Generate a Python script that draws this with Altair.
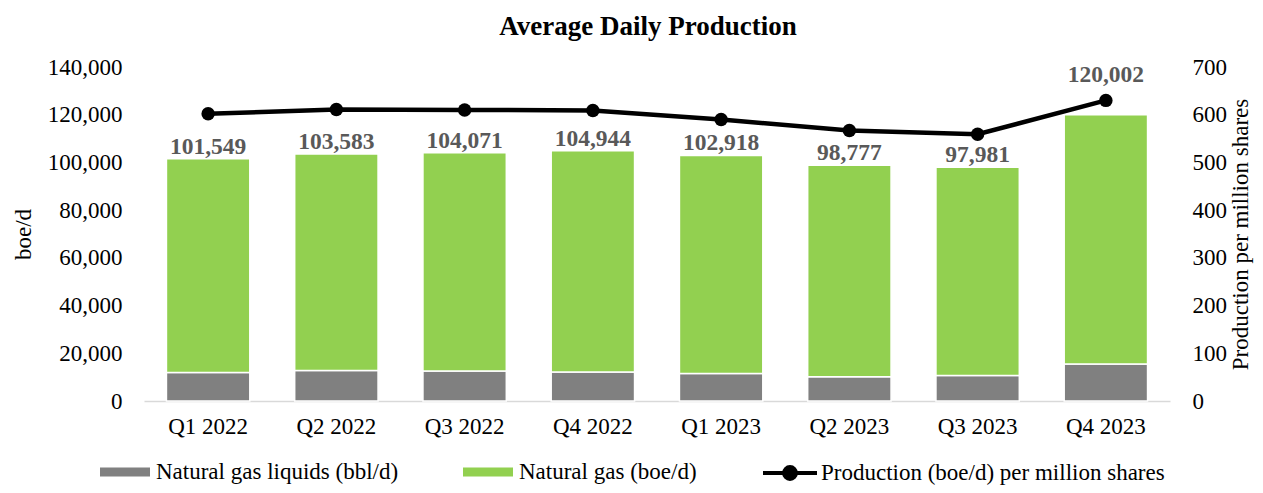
import altair as alt
import pandas as pd

quarters = ["Q1 2022", "Q2 2022", "Q3 2022", "Q4 2022", "Q1 2023", "Q2 2023", "Q3 2023", "Q4 2023"]
totals = [101549, 103583, 104071, 104944, 102918, 98777, 97981, 120002]
ngl = [11900, 12750, 12600, 12200, 11500, 10200, 10650, 15550]
per_share = [602, 611, 610, 609, 590, 567, 559, 630]

bar_series = ["Natural gas liquids (bbl/d)", "Natural gas (boe/d)"]
line_series = "Production (boe/d) per million shares"

FONT = "Liberation Serif"

rows = []
for q, t, n in zip(quarters, totals, ngl):
    rows.append({"quarter": q, "series": bar_series[0], "value": n, "ord": 0})
    rows.append({"quarter": q, "series": bar_series[1], "value": t - n, "ord": 1})
df_bars = pd.DataFrame(rows)

ratio = 140000 / 700
lab_y = []
for t, p in zip(totals, per_share):
    d = p * ratio - t
    lab_y.append(p * ratio + 5500 if 0 < d < 10000 else t)
df_tot = pd.DataFrame({"quarter": quarters, "total": totals, "per_share": per_share,
                       "label_y": lab_y, "line_series": [line_series] * len(quarters)})

xenc = alt.X("quarter:N", sort=quarters,
             scale=alt.Scale(paddingInner=0.35, paddingOuter=0.175),
             axis=alt.Axis(title=None, labelAngle=0, domainColor="#d9d9d9", domainWidth=1.5,
                           ticks=False, labelPadding=14))
yscale = alt.Scale(domain=[0, 140000], nice=False)
y2scale = alt.Scale(domain=[0, 700], nice=False)

yaxis = alt.Axis(values=list(range(0, 140001, 20000)), labelExpr="format(datum.value, ',')",
                 title="boe/d", grid=False, domain=False, ticks=False, labelPadding=22,
                 titlePadding=12)
y2axis = alt.Axis(orient="right", values=list(range(0, 701, 100)), labelExpr="format(datum.value, 'd')",
                  title="Production per million shares", grid=False, domain=False,
                  ticks=False, labelPadding=22, titlePadding=3, titleAngle=270,
                  titleBaseline="top")

bars = alt.Chart(df_bars).mark_bar(stroke="white", strokeWidth=1.5).encode(
    x=xenc,
    y=alt.Y("value:Q", stack="zero", scale=yscale, axis=yaxis, title="boe/d"),
    color=alt.Color("series:N", scale=alt.Scale(domain=bar_series, range=["#808080", "#92D050"]),
                    legend=alt.Legend(title=None, orient="none", direction="horizontal",
                                      legendX=-44, legendY=380,
                                      symbolType="M-1,-0.18H1V0.18H-1Z", symbolSize=2500,
                                      symbolStrokeWidth=0, labelOffset=6, columnPadding=64,
                                      labelLimit=0)),
    order=alt.Order("ord:Q"),
)

labels = alt.Chart(df_tot).mark_text(font=FONT, fontSize=23.5, fontWeight="bold", color="#595959",
                                     baseline="alphabetic", dy=-5).encode(
    x=alt.X("quarter:N", sort=quarters),
    y=alt.Y("label_y:Q", scale=yscale, axis=yaxis, title="boe/d"),
    text=alt.Text("total:Q", format=","),
)

line = alt.Chart(df_tot).mark_line(strokeWidth=4.5).encode(
    x=alt.X("quarter:N", sort=quarters),
    y=alt.Y("per_share:Q", scale=y2scale, axis=y2axis, title="Production per million shares"),
    stroke=alt.Stroke("line_series:N", scale=alt.Scale(range=["black"]),
                      legend=alt.Legend(title=None, orient="none", legendX=617, legendY=377,
                                        symbolType="M-1,0H1M-0.22,0A0.22,0.22 0 1,0 0.22,0A0.22,0.22 0 1,0 -0.22,0Z",
                                        symbolSize=2916, symbolStrokeWidth=4,
                                        symbolFillColor="black", labelOffset=2, labelLimit=0)),
)

points = alt.Chart(df_tot).mark_point(filled=True, size=180, color="black", opacity=1).encode(
    x=alt.X("quarter:N", sort=quarters),
    y=alt.Y("per_share:Q", scale=y2scale, axis=y2axis, title="Production per million shares"),
)

left = alt.layer(bars, labels)
right = alt.layer(line, points)

chart = alt.layer(left, right).resolve_scale(y="independent").properties(
    width=1026, height=334,
    autosize=alt.AutoSizeParams(type="none"),
    padding={"left": 136, "top": 59, "right": 85, "bottom": 84},
    title=alt.TitleParams("Average Daily Production", font=FONT, fontSize=27, fontWeight="bold",
                          color="black", anchor="middle", dx=-9, offset=15),
).configure_view(stroke=None).configure_axis(
    labelFont=FONT, labelFontSize=23, labelColor="black",
    titleFont=FONT, titleFontSize=23, titleFontWeight="normal", titleColor="black",
).configure_legend(
    labelFont=FONT, labelFontSize=23, labelColor="black",
)

chart.save("out.html", embed_options={"renderer": "svg", "actions": False})
